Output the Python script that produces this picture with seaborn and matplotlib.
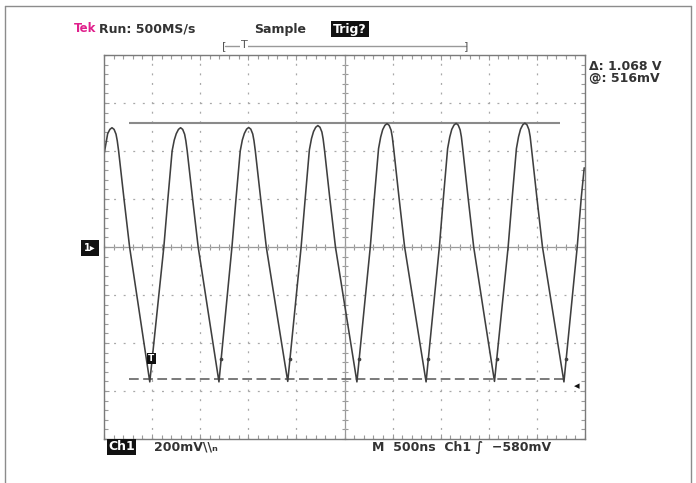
import matplotlib
matplotlib.use("Agg")
import matplotlib.pyplot as plt
from matplotlib.ticker import MultipleLocator, NullFormatter
from matplotlib.lines import Line2D
import seaborn as sns
import pandas as pd

# ---------------- data (read from the screen) ----------------
# time in ns (500 ns/div, 10 div, trigger at centre), voltage in mV (200 mV/div)
trace_t_ns = [
    -2500, -2462, -2439, -2417, -2395, -2375, -2362, -2348, -2292, -2234, -2122, -2024,
    -1878, -1836, -1792, -1770, -1749, -1726, -1704, -1682, -1662, -1649, -1635, -1579, -1521, -1406, -1305,
    -1170, -1128, -1084, -1062, -1041, -1018, -996, -974, -954, -941, -927, -871, -813, -694, -590,
    -451, -409, -365, -343, -322, -299, -277, -255, -235, -222, -208, -152, -94, 25, 129,
    268, 310, 354, 376, 397, 420, 442, 464, 484, 497, 511, 567, 625, 744, 848,
    986, 1028, 1072, 1094, 1115, 1138, 1160, 1182, 1202, 1215, 1229, 1285, 1343, 1458, 1559,
    1701, 1743, 1787, 1809, 1830, 1853, 1875, 1897, 1917, 1930, 1944, 2000, 2058, 2177, 2281,
    2419, 2461, 2492,
]
trace_mv = [
    385, 472, 490, 497, 490, 470, 442, 400, 200, 0, -300, -562,
    0, 200, 400, 445, 472, 490, 497, 490, 470, 442, 400, 200, 0, -300, -562,
    0, 200, 400, 446, 473, 491, 498, 491, 471, 443, 400, 200, 0, -300, -560,
    0, 200, 405, 452, 481, 499, 506, 499, 479, 450, 405, 200, 0, -300, -562,
    0, 205, 410, 458, 489, 507, 514, 507, 487, 458, 410, 205, 0, -300, -562,
    0, 205, 410, 458, 490, 508, 515, 508, 488, 459, 410, 205, 0, -300, -560,
    0, 205, 410, 459, 491, 509, 516, 509, 489, 460, 410, 205, 0, -300, -562,
    0, 205, 330,
]
# small glitch dots on the rising edges just above each trough
glitch_t_ns = [-1280, -565, 154, 873, 1584, 2306]
glitch_mv = [-465, -465, -465, -465, -465, -465]

# horizontal cursors
cursor_top_mv = 516
cursor_bot_mv = 516 - 1068
cursor_t_start = -2245
cursor_top_end = 2241
cursor_bot_end = 2283

# ---------------- figure ----------------
sns.set_style("white")
plt.rcParams["font.family"] = ["DejaVu Sans"]
plt.rcParams["lines.scale_dashes"] = False

W, H = 696, 483
fig = plt.figure(figsize=(W / 100, H / 100), dpi=100)
fig.patch.set_facecolor("white")


def fx(x):
    return x / W


def fy(y):
    return 1 - y / H


ax = fig.add_axes([fx(104), fy(439), 481 / W, 384 / H])
ax.set_xlim(-2500, 2500)
ax.set_ylim(-800, 800)

grid_c = "#9a9a9a"
frame_c = "#7a7a7a"
trace_c = "#3f3f3f"

# graticule
ax.xaxis.set_major_locator(MultipleLocator(500))
ax.yaxis.set_major_locator(MultipleLocator(200))
ax.xaxis.set_minor_locator(MultipleLocator(100))
ax.yaxis.set_minor_locator(MultipleLocator(40))
ax.tick_params(which="both", direction="in", top=True, right=True, bottom=True, left=True,
               labelbottom=False, labelleft=False, color=grid_c, width=0.8)
ax.tick_params(which="major", length=3.5)
ax.tick_params(which="minor", length=2.8)
ax.grid(which="major", color="#a8a8a8", linestyle=(0, (1.4, 5.5)), linewidth=0.9)
for s in ax.spines.values():
    s.set_color(frame_c)
    s.set_linewidth(1.0)

# centre cross with ticks
secx = ax.secondary_xaxis(0.5)
secx.xaxis.set_major_locator(MultipleLocator(500))
secx.xaxis.set_minor_locator(MultipleLocator(100))
secx.xaxis.set_major_formatter(NullFormatter())
secx.tick_params(which="both", direction="inout", length=5, color=grid_c, width=0.8,
                 labelbottom=False, labeltop=False)
secy = ax.secondary_yaxis(0.5)
secy.yaxis.set_major_locator(MultipleLocator(200))
secy.yaxis.set_minor_locator(MultipleLocator(40))
secy.yaxis.set_major_formatter(NullFormatter())
secy.tick_params(which="both", direction="inout", length=5, color=grid_c, width=0.8,
                 labelleft=False, labelright=False)
for sa in (secx, secy):
    for s in sa.spines.values():
        s.set_color(grid_c)
        s.set_linewidth(0.9)

# cursors
ax.hlines([cursor_top_mv], cursor_t_start, cursor_top_end, color="#8a8a8a", linewidth=1.5)
ax.hlines([cursor_bot_mv], cursor_t_start, cursor_bot_end, color="#707070", linewidth=1.3,
          linestyles=[(0, (7, 3.2))])

# trace
df = pd.DataFrame({"t": trace_t_ns, "v": trace_mv})
sns.lineplot(data=df, x="t", y="v", ax=ax, sort=False, estimator=None,
             color=trace_c, linewidth=1.15)
gdf = pd.DataFrame({"t": glitch_t_ns, "v": glitch_mv})
sns.scatterplot(data=gdf, x="t", y="v", ax=ax, color=trace_c, s=7, linewidth=0)
ax.set_xlabel("")
ax.set_ylabel("")

# trigger marker on first trough
ax.text(-2010, -465, "T", color="white", fontsize=6.5, fontweight="bold", ha="center", va="center",
        bbox=dict(boxstyle="square,pad=0.15", fc="#111111", ec="none"))

# ---------------- screen annotations ----------------
txt_c = "#333333"
fs = 9
fig.text(fx(74), fy(29), "Tek", color="#e0208c", fontsize=8.5, fontweight="bold", va="center")
fig.text(fx(99), fy(29), "Run: 500MS/s", color=txt_c, fontsize=fs, fontweight="bold", va="center")
fig.text(fx(254), fy(29), "Sample", color=txt_c, fontsize=fs, fontweight="bold", va="center")
fig.text(fx(333), fy(29), "Trig?", color="white", fontsize=fs, fontweight="bold", va="center",
         bbox=dict(boxstyle="square,pad=0.15", fc="#111111", ec="none"))

# record-position bracket
fig.add_artist(Line2D([fx(225), fx(466)], [fy(46), fy(46)], color="#999999", linewidth=1.0))
fig.text(fx(224), fy(46), "[", color="#555555", fontsize=8, ha="center", va="center")
fig.text(fx(466), fy(46), "]", color="#555555", fontsize=8, ha="center", va="center")
fig.text(fx(244), fy(45), "T", color="#555555", fontsize=8, ha="center", va="center",
         bbox=dict(boxstyle="square,pad=0.05", fc="white", ec="none"))

# cursor readouts
fig.text(fx(589), fy(67), "Δ: 1.068 V", color=txt_c, fontsize=fs, fontweight="bold", va="center")
fig.text(fx(589), fy(78.5), "@: 516mV", color=txt_c, fontsize=fs, fontweight="bold", va="center")

# channel ground marker
fig.text(fx(84), fy(248), "1▸", color="white", fontsize=7, fontweight="bold", va="center",
         bbox=dict(boxstyle="square,pad=0.3", fc="#111111", ec="none"))
# trigger level marker
fig.text(fx(577), fy(386.5), "◂", color="#111111", fontsize=8, ha="center", va="center")

# bottom readouts
fig.text(fx(108), fy(447), "Ch1", color="white", fontsize=fs, fontweight="bold", va="center",
         bbox=dict(boxstyle="square,pad=0.12", fc="#111111", ec="none"))
fig.text(fx(154), fy(447), "200mV\\\\ₙ", color=txt_c, fontsize=fs, fontweight="bold", va="center")
fig.text(fx(372), fy(447), "M  500ns  Ch1 ∫  −580mV", color=txt_c, fontsize=fs,
         fontweight="bold", va="center")

# outer frame (left, top, right)
fc = "#8c8c8c"
fig.add_artist(Line2D([fx(4.5), fx(4.5)], [0, fy(6)], color=fc, linewidth=1.0))
fig.add_artist(Line2D([fx(4.5), fx(690.5)], [fy(6), fy(6)], color=fc, linewidth=1.0))
fig.add_artist(Line2D([fx(690.5), fx(690.5)], [fy(6), 0], color=fc, linewidth=1.0))

fig.savefig("out.png", dpi=100, facecolor="white")
